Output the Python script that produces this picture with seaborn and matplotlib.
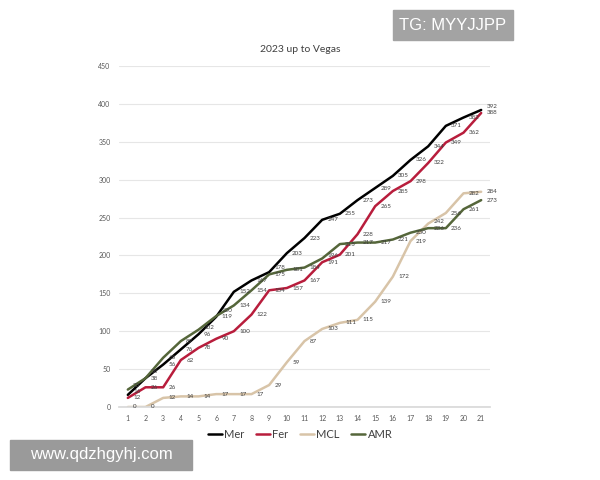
import pandas as pd
import matplotlib.pyplot as plt
import seaborn as sns

# Cumulative constructor points, 2023 season up to Las Vegas
races = list(range(1, 22))
mer = [16, 38, 56, 76, 96, 119, 152, 167, 178, 203, 223, 247, 255, 273, 289, 305, 326, 344, 371, 382, 392]
fer = [12, 26, 26, 62, 78, 90, 100, 122, 154, 157, 167, 191, 201, 228, 265, 285, 298, 322, 349, 362, 388]
mcl = [0, 0, 12, 14, 14, 17, 17, 17, 29, 59, 87, 103, 111, 115, 139, 172, 219, 242, 256, 282, 284]
amr = [23, 38, 65, 87, 102, 120, 134, 154, 175, 181, 184, 196, 215, 217, 217, 221, 230, 236, 236, 261, 273]

teams = ['Mer', 'Fer', 'MCL', 'AMR']
colors = {'Mer': '#000000', 'Fer': '#b81d3c', 'MCL': '#d8c4a8', 'AMR': '#55663a'}

df = pd.DataFrame({'Race': races, 'Mer': mer, 'Fer': fer, 'MCL': mcl, 'AMR': amr})
long_df = df.melt(id_vars='Race', var_name='Team', value_name='Points')

sns.set_theme(style='white')
plt.rcParams['font.family'] = ['Lato', 'DejaVu Sans']

fig = plt.figure(figsize=(6, 4.8), dpi=100)
fig.patch.set_facecolor('white')
ax = fig.add_axes([119 / 600, 1 - 407 / 480, 371 / 600, 341 / 480])

sns.lineplot(data=long_df, x='Race', y='Points', hue='Team', hue_order=teams,
             palette=colors, linewidth=1.8, ax=ax, legend=False)

# data labels to the right of each point, nudged apart where they collide
min_gap = 8.5
for r in races:
    row = df[df['Race'] == r].iloc[0]
    items = sorted([(row[t], t) for t in teams])
    ys = [v for v, _ in items]
    for i in range(1, len(ys)):
        if ys[i] - ys[i - 1] < min_gap:
            ys[i] = ys[i - 1] + min_gap
    for (v, t), y in zip(items, ys):
        ax.text(r + 0.3, y, str(v), fontsize=4.5, color='#404040',
                va='center', ha='left')

ax.set_xlim(0.5, 21.5)
ax.set_ylim(0, 450)
ax.set_xticks(races)
ax.set_yticks(range(0, 451, 50))
ax.tick_params(axis='both', labelsize=5, colors='#595959', length=0, pad=6)
ax.yaxis.grid(True, color='#e6e6e6', linewidth=0.8)
ax.set_axisbelow(True)
for side in ['top', 'right', 'left']:
    ax.spines[side].set_visible(False)
ax.spines['bottom'].set_color('#d9d9d9')
ax.set_xlabel('')
ax.set_ylabel('')

fig.text(0.5, 1 - 50 / 480, '2023 up to Vegas', ha='center', va='center',
         fontsize=7.5, color='#404040')

handles = [plt.Line2D([], [], color=colors[t], linewidth=1.8) for t in teams]
fig.legend(handles, teams, loc='center', bbox_to_anchor=(0.5, 1 - 434 / 480),
           ncol=4, frameon=False, fontsize=8, handlelength=1.3,
           handletextpad=0.2, columnspacing=1.0, labelcolor='#404040')

# watermarks
fig.patches.append(plt.Rectangle((393 / 600, 1 - 40 / 480), 120 / 600, 30 / 480,
                                 transform=fig.transFigure, color='#a3a3a3', zorder=5))
fig.text(453 / 600, 1 - 25 / 480, 'TG: MYYJJPP', ha='center', va='center',
         fontsize=12, color='white', family=['Liberation Sans', 'DejaVu Sans'], zorder=6)
fig.patches.append(plt.Rectangle((10 / 600, 1 - 470 / 480), 182 / 600, 30 / 480,
                                 transform=fig.transFigure, color='#9a9a9a', zorder=5))
fig.text(101 / 600, 1 - 455 / 480, 'www.qdzhgyhj.com', ha='center', va='center',
         fontsize=12, color='white', family=['Liberation Sans', 'DejaVu Sans'], zorder=6)

fig.savefig('out.png', dpi=100)
